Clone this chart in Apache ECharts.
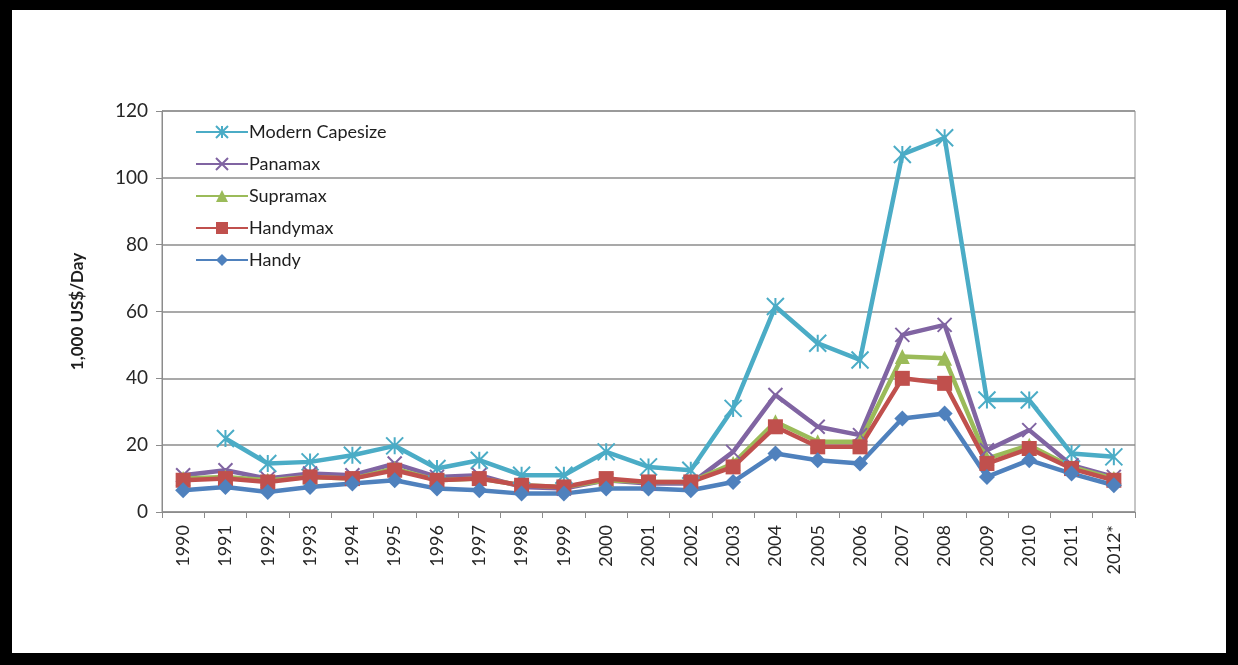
<!DOCTYPE html>
<html>
<head>
<meta charset="utf-8">
<script src="https://cdn.jsdelivr.net/npm/echarts@6/dist/echarts.min.js"></script>
<style>
  html, body { margin: 0; padding: 0; background: #000; }
  #frame { position: absolute; left: 12px; top: 10px; width: 1214px; height: 643px; background: #fff; }
  #chart { position: absolute; left: -12px; top: -10px; width: 1238px; height: 665px; }
</style>
</head>
<body>
<div id="frame"><div id="chart"></div></div>
<script>
var years = ['1990', '1991', '1992', '1993', '1994', '1995', '1996', '1997', '1998', '1999', '2000', '2001',
  '2002', '2003', '2004', '2005', '2006', '2007', '2008', '2009', '2010', '2011', '2012*']

var capesize = [null, 22, 14.5, 15, 17, 19.8, 13, 15.5, 11, 11, 18, 13.5, 12.5, 31, 61.5, 50.5, 45.5, 107, 112, 33.5, 33.5, 17.5, 16.5]
var panamax = [11, 12.5, 10, 11.5, 11, 14.5, 10.5, 11, 7.5, 7, 9.5, 8.5, 8.5, 18, 35, 25.5, 23, 53, 56, 18.5, 24.5, 14, 10.5]
var supramax = [10, 10.5, 9.5, 10.5, 10, 13, 9.5, 10, 8, 7.5, 9.5, 9, 9, 14.5, 27, 21, 21, 46.5, 46, 16, 20, 13.5, 10]
var handymax = [9.5, 10, 9, 10.5, 10, 12.5, 9.5, 10, 8, 7.5, 10, 9, 9, 13.5, 25.5, 19.5, 19.5, 40, 38.5, 14.5, 19, 13, 9.5]
var handy = [6.5, 7.5, 6, 7.5, 8.5, 9.5, 7, 6.5, 5.5, 5.5, 7, 7, 6.5, 9, 17.5, 15.5, 14.5, 28, 29.5, 10.5, 15.5, 11.5, 8]

var yTicks = [0, 20, 40, 60, 80, 100, 120]

var starPath = 'path://M0,0 L10,10 M10,0 L0,10 M5,0 L5,10'
var crossPath = 'path://M0,0 L10,10 M10,0 L0,10'

var chartDom = document.getElementById('chart')
var myChart = echarts.init(chartDom)
var option

function line (name, data, color, symbol, size, stroke) {
  return {
    name: name,
    type: 'line',
    data: data,
    symbol: symbol,
    symbolSize: size,
    showAllSymbol: true,
    connectNulls: false,
    lineStyle: { color: color, width: 4.5 },
    itemStyle: stroke
      ? { color: color, borderColor: color, borderWidth: 2 }
      : { color: color, borderWidth: 0 },
    emphasis: { disabled: true },
    z: 2
  }
}

option = {
  animation: false,
  textStyle: { fontFamily: 'Lato' },
  grid: {
    left: 162,
    right: 103,
    top: 111,
    bottom: 153,
    show: true,
    borderColor: '#8c8c8c',
    borderWidth: 1
  },
  legend: {
    orient: 'vertical',
    left: 190,
    top: 118,
    itemWidth: 52,
    itemHeight: 15,
    itemGap: 14,
    textStyle: { fontSize: 18, color: '#1e1e1e', padding: [0, 0, 0, -4] },
    data: ['Modern Capesize', 'Panamax', 'Supramax', 'Handymax', 'Handy']
  },
  xAxis: {
    type: 'category',
    data: years,
    boundaryGap: true,
    axisLine: { lineStyle: { color: '#8c8c8c', width: 1 } },
    axisTick: { show: true, length: 6, lineStyle: { color: '#8c8c8c' } },
    axisLabel: { rotate: 90, fontSize: 18, color: '#262626', margin: 13 }
  },
  yAxis: {
    type: 'value',
    min: 0,
    max: yTicks[yTicks.length - 1],
    interval: 20,
    name: '1,000 US$/Day',
    nameLocation: 'middle',
    nameGap: 76,
    nameRotate: 90,
    nameTextStyle: { fontSize: 17, fontWeight: 'bold', color: '#1e1e1e' },
    axisLine: { show: true, lineStyle: { color: '#8c8c8c', width: 1 } },
    axisTick: { show: true, length: 6, lineStyle: { color: '#8c8c8c' } },
    axisLabel: { fontSize: 19, color: '#262626', margin: 14 },
    splitLine: { lineStyle: { color: '#8c8c8c', width: 1.5 } }
  },
  series: [
    line('Modern Capesize', capesize, '#4bacc6', starPath, 17, true),
    line('Panamax', panamax, '#8064a2', crossPath, 14, true),
    line('Supramax', supramax, '#9bbb59', 'triangle', 15, false),
    line('Handymax', handymax, '#c0504d', 'rect', 15, false),
    line('Handy', handy, '#4f81bd', 'diamond', 16, false)
  ]
}

option && myChart.setOption(option)
</script>
</body>
</html>
